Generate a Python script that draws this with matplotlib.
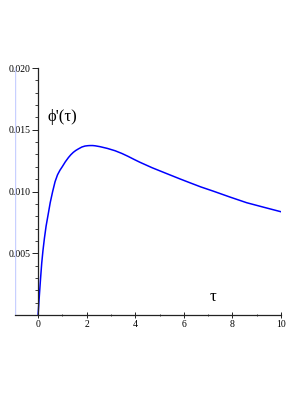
import matplotlib
matplotlib.use("Agg")
import matplotlib.pyplot as plt
from matplotlib.ticker import FixedLocator

# data
tau = [0.0, 0.05, 0.10, 0.15, 0.20, 0.26, 0.33, 0.42, 0.50, 0.60, 0.70, 0.80, 0.90, 1.0,
       1.12, 1.25, 1.35, 1.45, 1.55, 1.66, 1.80, 1.93, 2.05, 2.14, 2.25, 2.35, 2.55, 2.85,
       3.17, 3.45, 3.7, 3.95, 4.2, 4.7, 5.23, 5.84, 6.26, 6.7, 7.21, 7.9, 8.59, 9.3, 10.0]
phi = [0.0, 0.0015, 0.0029, 0.0042, 0.0052, 0.0062, 0.0072, 0.0082, 0.0091, 0.0100,
       0.01080, 0.01135, 0.01172, 0.01202, 0.01240, 0.01275, 0.01298, 0.01317, 0.01332,
       0.01345, 0.01360, 0.01368, 0.01371, 0.01372, 0.01372, 0.01370, 0.01363, 0.01349,
       0.01330, 0.01308, 0.01285, 0.01260, 0.01236, 0.01192, 0.01150, 0.01102, 0.01070,
       0.01037, 0.01003, 0.00955, 0.00909, 0.00872, 0.00836]
yticks = [0.005, 0.010, 0.015, 0.020]
ytick_labels = ["0.005", "0.010", "0.015", "0.020"]
xticks = [0, 2, 4, 6, 8, 10]
xtick_labels = ["0", "2", "4", "6", "8", "10"]

W, H = 306, 396
fig = plt.figure(figsize=(W / 100, H / 100), dpi=100)
x0, x1 = 15, 281
y0, y1 = 315, 68
ax = fig.add_axes([x0 / W, 1 - y0 / H, (x1 - x0) / W, (y0 - y1) / H])
ax.set_xlim(-0.95, 10)
ax.set_ylim(0, 0.020)

ax.plot(tau, phi, color="#0000ff", lw=1.1)

for s in ["top", "right"]:
    ax.spines[s].set_visible(False)
ax.spines["left"].set_position(("data", 0))
ax.spines["bottom"].set_position(("data", 0))
for s in ["left", "bottom"]:
    ax.spines[s].set_linewidth(0.9)
    ax.spines[s].set_color("#222222")
# faint frame edge on the left
ax.axvline(-0.95, color="#c8d0ff", lw=1.0)

serif = ["Liberation Serif", "DejaVu Serif"]
ax.set_yticks(yticks)
ax.set_yticklabels(ytick_labels, family=serif, fontsize=7)
ax.yaxis.set_minor_locator(FixedLocator([i * 0.001 for i in range(1, 21) if i % 5]))
ax.set_xticks(xticks)
ax.set_xticklabels(xtick_labels, family=serif, fontsize=7)
ax.xaxis.set_minor_locator(FixedLocator([1, 3, 5, 7, 9]))
ax.tick_params(axis="both", which="major", length=4, width=0.7, color="#222222", pad=1.5)
ax.tick_params(axis="both", which="minor", length=2, width=0.6, color="#222222")
ax.tick_params(axis="x", which="both", direction="inout")

ax.text(1.0, 0.0160, "\u03d5'(τ)", family=serif, fontsize=12, ha="center", va="center")
ax.text(7.2, 0.00145, "τ", family=serif, fontsize=12, ha="center", va="center")

fig.savefig("out.png", dpi=100)
